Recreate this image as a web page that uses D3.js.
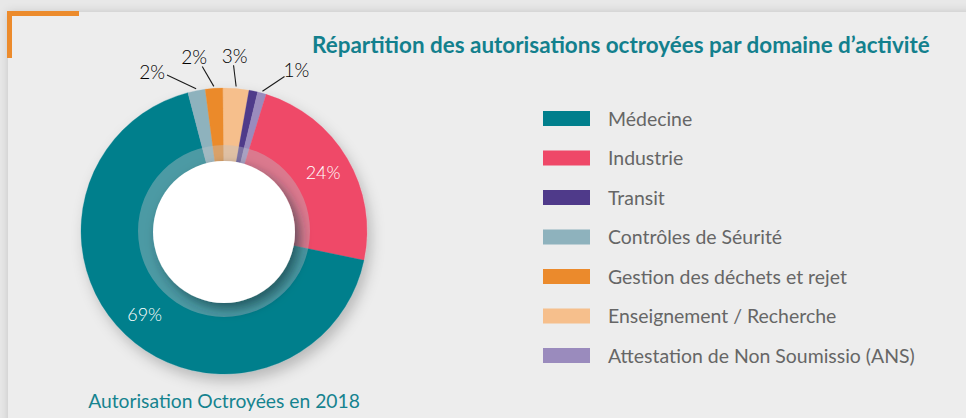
<!DOCTYPE html>
<html><head><meta charset="utf-8">
<script src="https://cdn.jsdelivr.net/npm/d3@7"></script>
<style>html,body{margin:0;padding:0;background:#e4e4e4;}svg{display:block;}</style>
</head><body>
<svg id="c" width="966" height="418"></svg>
<script>
// ---- data ----
const categories = ["Médecine","Industrie","Transit","Contrôles de Séurité","Gestion des déchets et rejet","Enseignement / Recherche","Attestation de Non Soumissio (ANS)"];
const values = [69, 24, 1, 2, 2, 3, 1];
const colors = ["#007f8c","#ef4868","#4f3a8a","#8eb2bd","#eb8a2c","#f6bf8c","#9a8bbd"];
const pieOrder = ["Enseignement / Recherche","Transit","Attestation de Non Soumissio (ANS)","Industrie","Médecine","Contrôles de Séurité","Gestion des déchets et rejet"];
const labelled = {"Médecine":"inside","Industrie":"inside","Contrôles de Séurité":"outside","Gestion des déchets et rejet":"outside","Enseignement / Recherche":"outside","Attestation de Non Soumissio (ANS)":"outside"};
const title = "Répartition des autorisations octroyées par domaine d’activité";
const subtitle = "Autorisation Octroyées en 2018";

// ---- layout ----
const svg = d3.select("#c");
const W = 966, H = 418;
const cx = 224, cy = 231, R = 143, Rring = 86, Rin = 71;
const outerLabelCfg = {
  "Contrôles de Séurité": {da:-9, anchor:"end", dx:-2, dy:4},
  "Gestion des déchets et rejet": {da:-3.5, anchor:"middle", dx:-8, dy:-2},
  "Enseignement / Recherche": {da:-1.5, anchor:"middle", dx:1, dy:-2},
  "Attestation de Non Soumissio (ANS)": {da:6, anchor:"start", dx:-1, dy:1}
};
const defs = svg.append("defs");
const f1 = defs.append("filter").attr("id","cardShadow").attr("x","-5%").attr("y","-5%").attr("width","110%").attr("height","110%");
f1.append("feDropShadow").attr("dx",0).attr("dy",0).attr("stdDeviation",5).attr("flood-color","#000").attr("flood-opacity",0.16);
const f2 = defs.append("filter").attr("id","donutShadow").attr("x","-20%").attr("y","-20%").attr("width","150%").attr("height","150%");
f2.append("feDropShadow").attr("dx",4).attr("dy",7).attr("stdDeviation",7).attr("flood-color","#000").attr("flood-opacity",0.22);
const f3 = defs.append("filter").attr("id","holeShadow").attr("x","-30%").attr("y","-30%").attr("width","160%").attr("height","160%");
f3.append("feDropShadow").attr("dx",5).attr("dy",6).attr("stdDeviation",6).attr("flood-color","#002530").attr("flood-opacity",0.55);

svg.append("rect").attr("width",W).attr("height",H).attr("fill","#e8e8e8");
svg.append("rect").attr("x",8).attr("y",12).attr("width",W+20).attr("height",H+20).attr("fill","#ededed").attr("filter","url(#cardShadow)");
svg.append("rect").attr("x",7).attr("y",11).attr("width",72).attr("height",5).attr("fill","#ec8b2c");
svg.append("rect").attr("x",7).attr("y",11).attr("width",5).attr("height",47).attr("fill","#ec8b2c");

const color = d3.scaleOrdinal().domain(categories).range(colors);
const valueOf = new Map(categories.map((c,i)=>[c,values[i]]));
const pie = d3.pie().sort(null).value(d=>valueOf.get(d)).startAngle(-0.5*Math.PI/180).endAngle(2*Math.PI-0.5*Math.PI/180);
const arcs = pie(pieOrder);
const arc = d3.arc().innerRadius(Rin-1).outerRadius(R);

const g = svg.append("g").attr("transform",`translate(${cx},${cy})`);
const slices = g.append("g").attr("filter","url(#donutShadow)");
slices.selectAll("path").data(arcs).join("path").attr("d",arc).attr("fill",d=>color(d.data)).attr("stroke",d=>color(d.data)).attr("stroke-width",0.3);
// translucent ring
g.append("path").attr("d", d3.arc().innerRadius(Rin-1).outerRadius(Rring).startAngle(0).endAngle(2*Math.PI)()).attr("fill","rgb(190,196,200)").attr("fill-opacity",0.4);
// hole
g.append("circle").attr("cx",0).attr("cy",1).attr("r",Rin).attr("fill","#fff").attr("filter","url(#holeShadow)");

// labels
const pctFont = "Lato, 'Open Sans', sans-serif";
const centroidArc = d3.arc().innerRadius(115).outerRadius(115);
arcs.forEach(d=>{
  const kind = labelled[d.data];
  if(!kind) return;
  const txt = valueOf.get(d.data) + "%";
  if(kind==="inside"){
    const [x,y] = centroidArc.centroid(d);
    g.append("text").attr("x",x).attr("y",y).attr("dy","0.36em").attr("text-anchor","middle")
      .attr("font-family",pctFont).attr("font-weight",300).attr("font-size",18).attr("fill","#fff").text(txt);
  } else {
    const cfg = outerLabelCfg[d.data];
    const mid = (d.startAngle+d.endAngle)/2;
    const a2 = mid + cfg.da*Math.PI/180;
    const p1 = [Math.sin(mid)*145, -Math.cos(mid)*145];
    const p2 = [Math.sin(a2)*166, -Math.cos(a2)*166];
    g.append("line").attr("x1",p1[0]).attr("y1",p1[1]).attr("x2",p2[0]).attr("y2",p2[1]).attr("stroke","#1a1a1a").attr("stroke-width",1.1);
    g.append("text").attr("x",p2[0]+cfg.dx).attr("y",p2[1]+cfg.dy).attr("text-anchor",cfg.anchor)
      .attr("font-family",pctFont).attr("font-weight",300).attr("font-size",19).attr("fill","#000").text(txt);
  }
});

function fit(sel, target){
  const w = sel.node().getComputedTextLength();
  const fs = parseFloat(sel.attr("font-size"));
  sel.attr("font-size", fs*target/w);
}
const tFont = "Lato, 'Open Sans', sans-serif";
const t = svg.append("text").attr("x",312).attr("y",53).attr("font-family",tFont).attr("font-weight",700).attr("font-size",20).attr("fill","#13808d").text(title);
fit(t, 618);
const st = svg.append("text").attr("x",224).attr("y",408).attr("text-anchor","middle").attr("font-family",tFont).attr("font-size",18).attr("fill","#15838f").text(subtitle);
fit(st, 272);

// legend
const y = d3.scalePoint().domain(categories).range([111, 348]);
const lg = svg.append("g");
lg.selectAll("rect").data(categories).join("rect").attr("x",543).attr("y",d=>y(d)).attr("width",47).attr("height",15).attr("fill",d=>color(d));
const lt = lg.selectAll("text").data(categories).join("text").attr("x",608).attr("y",d=>y(d)+7.5).attr("dy","0.36em")
  .attr("font-family",tFont).attr("font-size",18).attr("fill","#666").text(d=>d);
const longest = lt.filter(d=>d===categories[6]);
const lw = longest.node().getComputedTextLength();
lt.attr("font-size", 18*307/lw);
</script>
</body></html>
